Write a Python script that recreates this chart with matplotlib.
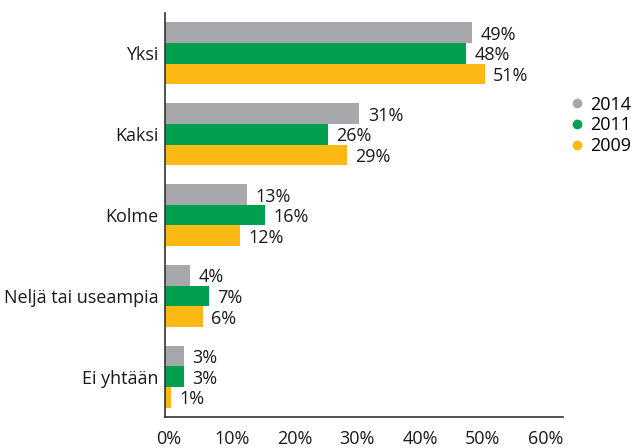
import matplotlib
matplotlib.use("Agg")
import matplotlib.pyplot as plt
from matplotlib.lines import Line2D
import matplotlib.transforms as mtrans
import numpy as np

categories = ["Yksi", "Kaksi", "Kolme", "Neljä tai useampia", "Ei yhtään"]
series_names = ["2014", "2011", "2009"]
v2014 = [49, 31, 13, 4, 3]
v2011 = [48, 26, 16, 7, 3]
v2009 = [51, 29, 12, 6, 1]
xticks = [0, 10, 20, 30, 40, 50, 60]
colors = ["#A7A8AC", "#00A04E", "#FDB913"]

plt.rcParams['font.family'] = ['Open Sans', 'DejaVu Sans']

fig = plt.figure(figsize=(6.4, 4.48), dpi=100)
ax = fig.add_axes([0.258, 0.069, 0.622, 0.902])

n = len(categories)
y = np.arange(n)
h = 0.255
for i, (vals, c) in enumerate(zip([v2014, v2011, v2009], colors)):
    pos = y + (i - 1) * h
    ax.barh(pos, vals, height=h, color=c, edgecolor='none')
    for p, v in zip(pos, vals):
        ax.annotate(f"{v}%", (v, p), xytext=(6, -1.5), textcoords='offset points',
                    ha='left', va='center', fontsize=13, color='#1a1a1a')

ax.set_ylim(n - 0.5, -0.5)
ax.set_xlim(0, 63.5)
ax.set_yticks(y)
ax.set_yticklabels(categories, fontsize=13, color='#1a1a1a')
ax.set_xticks(xticks)
ax.set_xticklabels([f"{t}%" for t in xticks], fontsize=13, color='#1a1a1a')
ax.tick_params(axis='both', length=0)
ax.tick_params(axis='x', pad=9)
ax.tick_params(axis='y', pad=5)
off = mtrans.ScaledTranslation(4/100, 0, fig.dpi_scale_trans)
for lab in ax.get_xticklabels():
    lab.set_transform(lab.get_transform() + off)
for s in ['top', 'right']:
    ax.spines[s].set_visible(False)
for s in ['left', 'bottom']:
    ax.spines[s].set_color('#333333')
    ax.spines[s].set_linewidth(1.2)

handles = [Line2D([0], [0], marker='o', linestyle='none', markersize=7,
                  markerfacecolor=c, markeredgecolor='none') for c in colors]
fig.legend(handles, series_names, loc='center left', bbox_to_anchor=(0.876, 0.72),
           frameon=False, fontsize=13, handletextpad=0.25, labelspacing=0.15,
           handlelength=1.0, borderaxespad=0)

fig.savefig("out.png", dpi=100)
